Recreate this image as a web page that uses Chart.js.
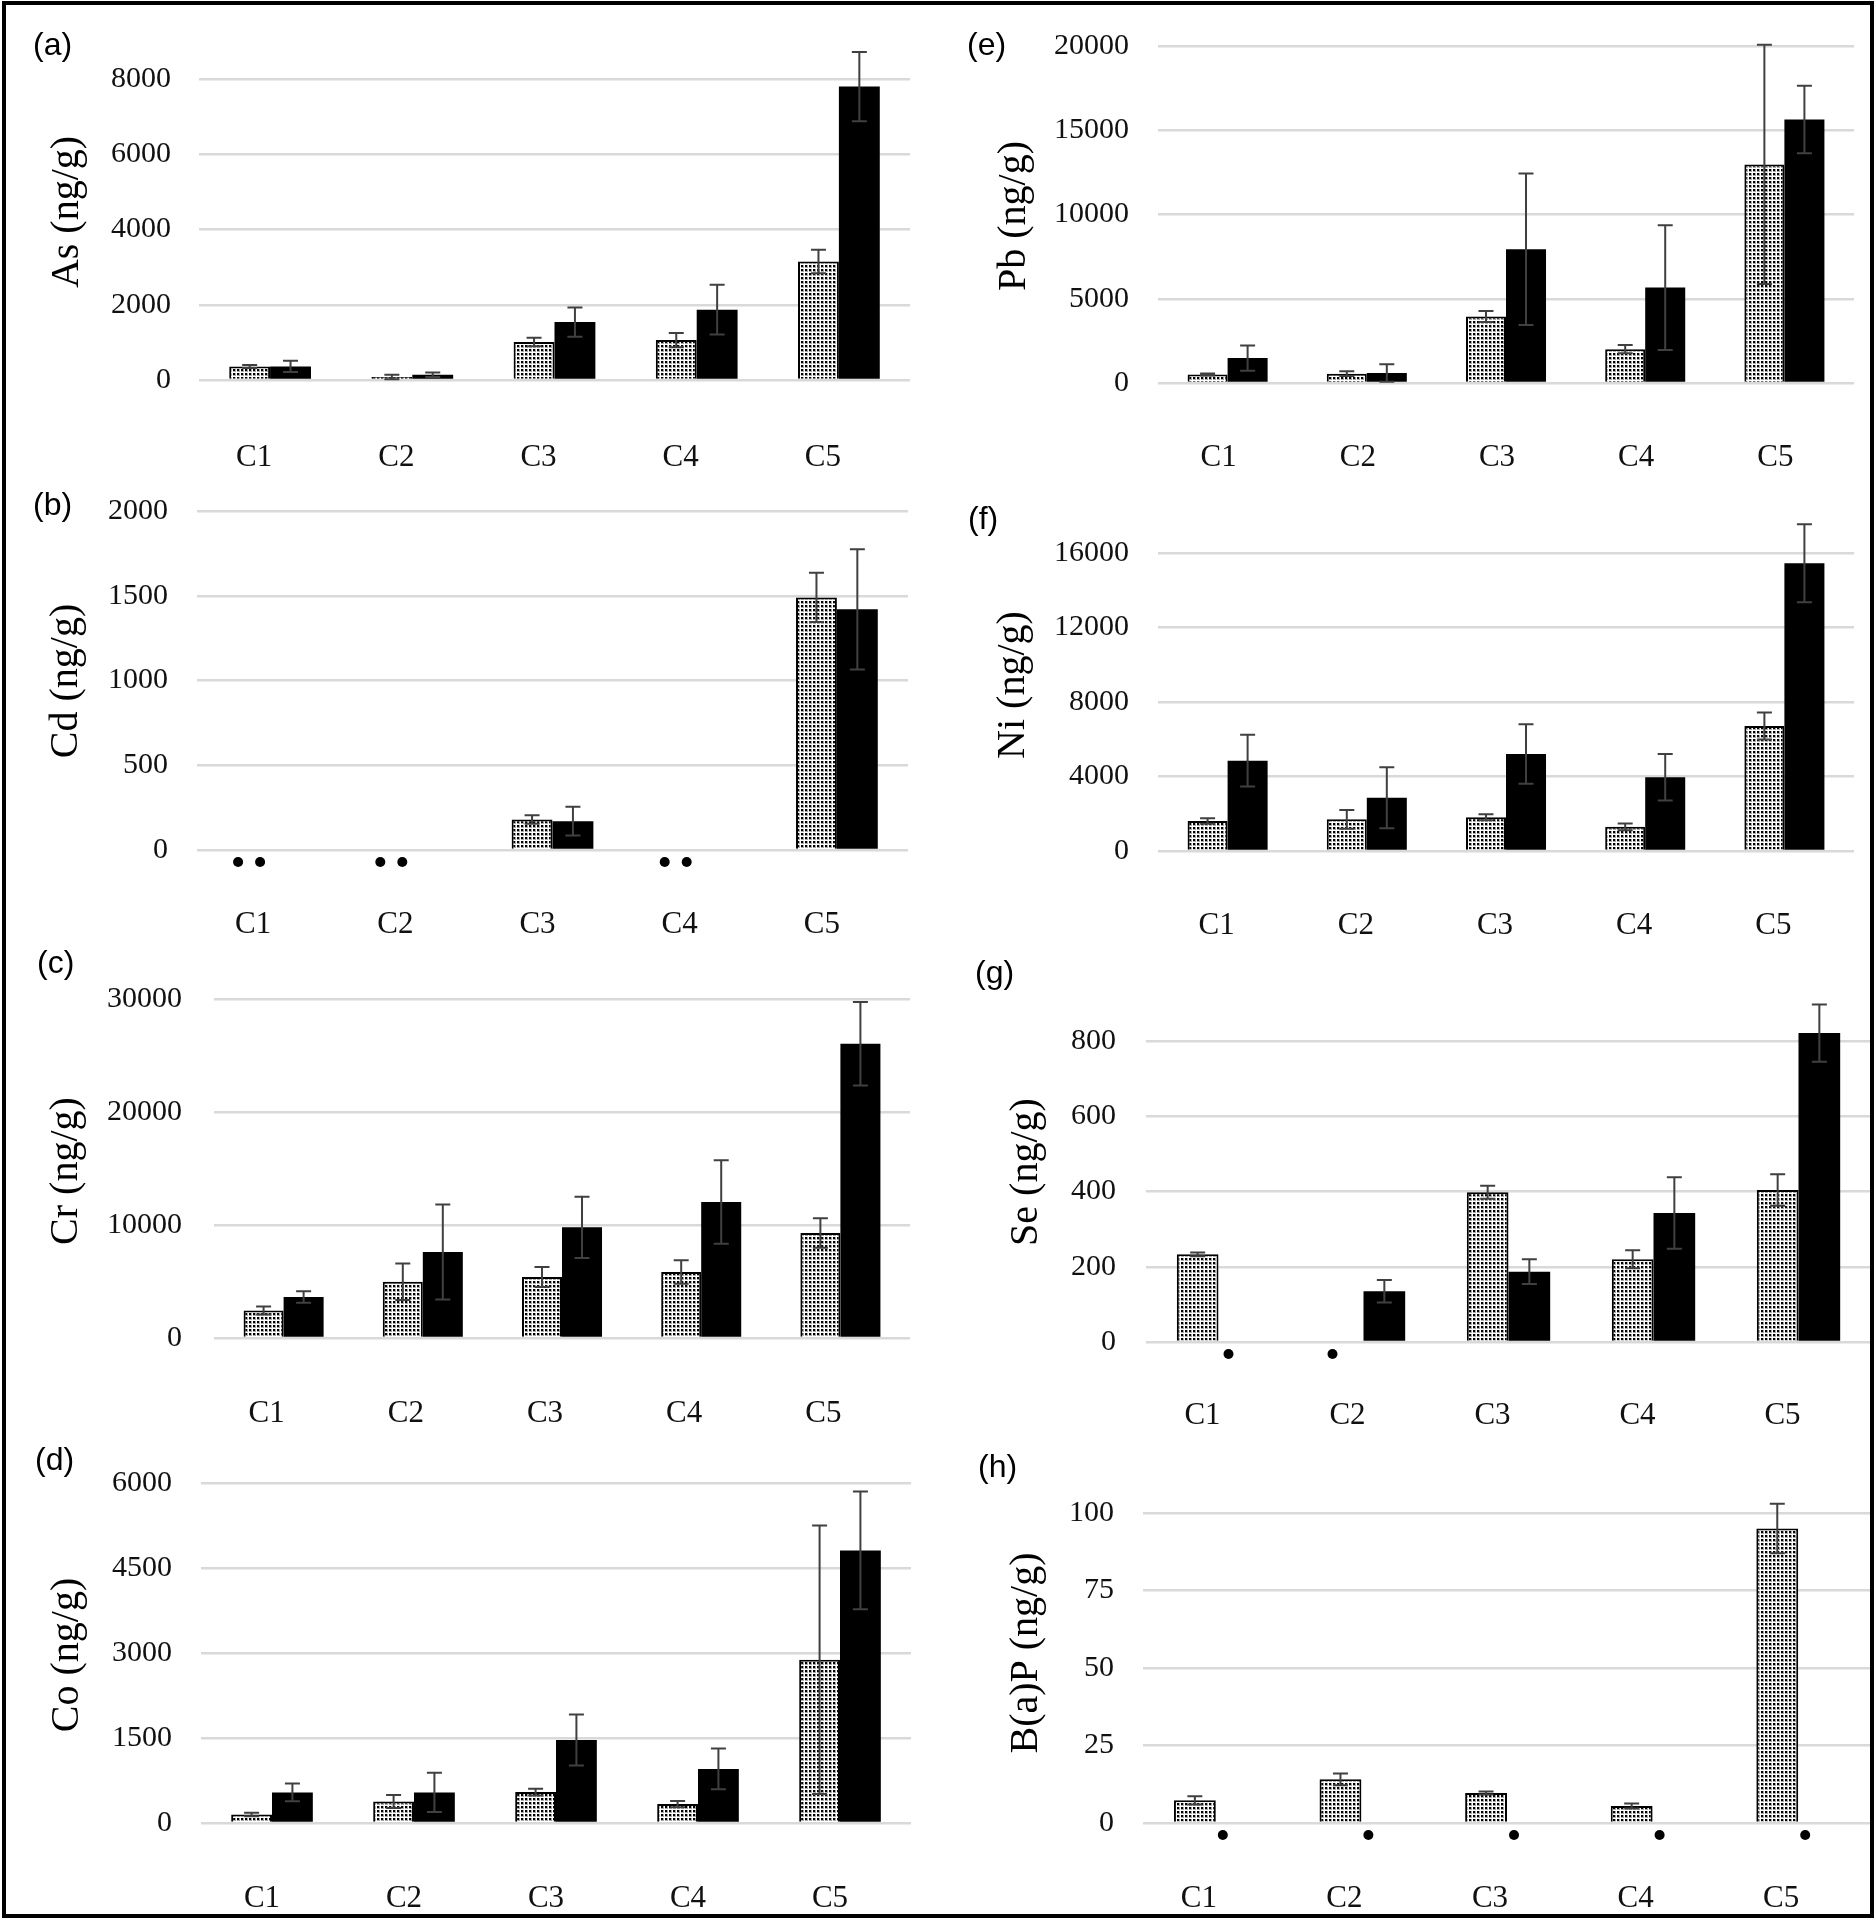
<!DOCTYPE html>
<html>
<head>
<meta charset="utf-8">
<script src="https://cdn.jsdelivr.net/npm/chart.js@4.4.1/dist/chart.umd.min.js"></script>
<style>
body{margin:0;background:#fff;}
#page{position:relative;width:1876px;height:1920px;overflow:hidden;}
#frame{position:absolute;left:2px;top:1px;width:1872px;height:1917px;border:4px solid #000;box-sizing:border-box;pointer-events:none;}
canvas{position:absolute;}
</style>
</head>
<body>
<div id="page"></div>
<script>
// DATA (dotted = first series, solid = second series, null = not detected)
let categories=["C1","C2","C3","C4","C5"];

let asDotted=[360,80,1010,1060,3150];
let asDottedErr=[40,60,110,190,310];
let asSolid=[360,140,1540,1870,7800];
let asSolidErr=[150,60,390,660,920];

let cdDotted=[null,null,180,null,1490];
let cdDottedErr=[0,0,25,0,145];
let cdSolid=[null,null,170,null,1420];
let cdSolidErr=[0,0,85,0,355];

let crDotted=[2440,4980,5400,5840,9290];
let crDottedErr=[350,1620,880,1030,1300];
let crSolid=[3630,7610,9790,12040,26040];
let crSolidErr=[500,4200,2700,3700,3700];

let coDotted=[150,380,545,335,2880];
let coDottedErr=[30,115,60,55,2370];
let coSolid=[540,540,1465,955,4810];
let coSolidErr=[155,345,450,360,1040];

let pbDotted=[500,550,3950,2010,12970];
let pbDottedErr=[60,140,330,240,7100];
let pbSolid=[1480,590,7940,5665,15640];
let pbSolidErr=[750,520,4500,3700,2000];

let niDotted=[1610,1700,1810,1300,6710];
let niDottedErr=[150,500,160,180,730];
let niSolid=[4850,2860,5210,3955,15450];
let niSolidErr=[1390,1640,1600,1250,2100];

let seDotted=[233,null,398,220,404];
let seDottedErr=[5,0,17,24,42];
let seSolid=[null,135,187,343,821];
let seSolidErr=[0,30,33,95,76];

let bapDotted=[7.3,14.1,9.7,5.5,95];
let bapDottedErr=[1.3,1.9,0.5,0.8,8];
let bapSolid=[null,null,null,null,null];
let bapSolidErr=[0,0,0,0,0];

// PANELS (layout in page pixels)
let panels=[
  {tag:"(a)",title:"As (ng/g)",d:asDotted,de:asDottedErr,s:asSolid,se:asSolidErr,max:8000,step:2000,
   box:[8,0,930,470],plot:[199,79,910,380],tickRight:171,labelY:450,labelOff:-16,tagAt:[33,46],titleAt:[67,212],nd:[-27,-6]},
  {tag:"(b)",title:"Cd (ng/g)",d:cdDotted,de:cdDottedErr,s:cdSolid,se:cdSolidErr,max:2000,step:500,
   box:[8,460,930,945],plot:[197,511,908,850],tickRight:168,labelY:917,labelOff:-15,tagAt:[33,506],titleAt:[66,681],nd:[-30,-8]},
  {tag:"(c)",title:"Cr (ng/g)",d:crDotted,de:crDottedErr,s:crSolid,se:crSolidErr,max:30000,step:10000,
   box:[8,940,930,1430],plot:[214,999,910,1338],tickRight:182,labelY:1406,labelOff:-17,tagAt:[37,964],titleAt:[66,1171],nd:[-27,-6]},
  {tag:"(d)",title:"Co (ng/g)",d:coDotted,de:coDottedErr,s:coSolid,se:coSolidErr,max:6000,step:1500,
   box:[8,1425,930,1914],plot:[201,1483,911,1823],tickRight:172,labelY:1891,labelOff:-10,tagAt:[35,1461],titleAt:[67,1655],nd:[-27,-6]},
  {tag:"(e)",title:"Pb (ng/g)",d:pbDotted,de:pbDottedErr,s:pbSolid,se:pbSolidErr,max:20000,step:5000,
   box:[936,0,1872,470],plot:[1158,46,1854,383],tickRight:1129,labelY:450,labelOff:-9,tagAt:[967,46],titleAt:[1014,216],nd:[-27,-6]},
  {tag:"(f)",title:"Ni (ng/g)",d:niDotted,de:niDottedErr,s:niSolid,se:niSolidErr,max:16000,step:4000,
   box:[936,470,1872,945],plot:[1158,553,1854,851],tickRight:1129,labelY:918,labelOff:-11,tagAt:[968,520],titleAt:[1013,685],nd:[-27,-6]},
  {tag:"(g)",title:"Se (ng/g)",d:seDotted,de:seDottedErr,s:seSolid,se:seSolidErr,max:800,step:200,
   box:[936,945,1872,1430],plot:[1146,1041,1871,1342],tickRight:1116,labelY:1408,labelOff:-16,tagAt:[975,974],titleAt:[1026,1172],nd:[-31,10]},
  {tag:"(h)",title:"B(a)P (ng/g)",d:bapDotted,de:bapDottedErr,s:bapSolid,se:bapSolidErr,max:100,step:25,
   box:[936,1430,1872,1914],plot:[1143,1513,1871,1823],tickRight:1114,labelY:1891,labelOff:-17,tagAt:[978,1468],titleAt:[1026,1653],nd:[-31,7]}
];

// DOT PATTERN
function makeDots(){
  let c=document.createElement("canvas");
  c.width=4;c.height=4;
  let g=c.getContext("2d");
  g.fillStyle="#fff";g.fillRect(0,0,4,4);
  g.fillStyle="#a8a8a8";g.fillRect(1,1,3,3);
  g.fillStyle="#000";g.fillRect(1,1,2,2);
  return g.createPattern(c,"repeat");
}
let dots=makeDots();

// ERROR BARS, ND DOTS, TEXTS
function extras(p){
  return {
    id:"extras",
    afterDatasetsDraw(chart){
      let ctx=chart.ctx, xs=chart.scales.x, ys=chart.scales.y;
      ctx.save();
      [[p.d,p.de],[p.s,p.se]].forEach(([vals,errs],si)=>{
        let meta=chart.getDatasetMeta(si);
        vals.forEach((v,i)=>{
          if(v==null){
            ctx.fillStyle="#000";
            ctx.beginPath();
            ctx.arc(xs.getPixelForValue(i)+p.nd[si],ys.getPixelForValue(0)+12,5,0,Math.PI*2);
            ctx.fill();
            return;
          }
          if(!errs[i]) return;
          let x=meta.data[i].x;
          let y1=ys.getPixelForValue(v+errs[i]);
          let y2=ys.getPixelForValue(Math.max(v-errs[i],0));
          ctx.strokeStyle="#404040";
          ctx.lineWidth=2;
          ctx.beginPath();
          ctx.moveTo(x,y1);ctx.lineTo(x,y2);
          ctx.moveTo(x-7.5,y1);ctx.lineTo(x+7.5,y1);
          ctx.moveTo(x-7.5,y2);ctx.lineTo(x+7.5,y2);
          ctx.stroke();
        });
      });
      // panel tag
      ctx.fillStyle="#000";
      ctx.font="32px 'Liberation Sans'";
      ctx.textAlign="left";
      ctx.textBaseline="middle";
      ctx.fillText(p.tag,p.tagAt[0]-p.box[0],p.tagAt[1]-p.box[1]);
      // y title
      ctx.translate(p.titleAt[0]-p.box[0],p.titleAt[1]-p.box[1]);
      ctx.rotate(-Math.PI/2);
      ctx.font="40px 'Liberation Serif'";
      ctx.textAlign="center";
      ctx.fillText(p.title,0,0);
      ctx.restore();
    }
  };
}

// CHARTS
let page=document.getElementById("page");
panels.forEach(p=>{
  let cv=document.createElement("canvas");
  let w=p.box[2]-p.box[0], h=p.box[3]-p.box[1];
  cv.width=w;cv.height=h;
  cv.style.left=p.box[0]+"px";cv.style.top=p.box[1]+"px";
  cv.style.width=w+"px";cv.style.height=h+"px";
  page.appendChild(cv);

  new Chart(cv,{
    type:"bar",
    data:{
      labels:categories,
      datasets:[
        {data:p.d,backgroundColor:dots,borderColor:"#000",borderWidth:2,categoryPercentage:0.575,barPercentage:1,clip:false},
        {data:p.s,backgroundColor:"#000",borderColor:"#000",borderWidth:0,categoryPercentage:0.575,barPercentage:1,clip:false}
      ]
    },
    options:{
      responsive:false,
      animation:false,
      devicePixelRatio:1,
      layout:{padding:{left:0,top:p.plot[1]-p.box[1],right:p.box[2]-p.plot[2],bottom:0}},
      plugins:{legend:{display:false},tooltip:{enabled:false}},
      scales:{
        x:{
          grid:{display:false},
          border:{display:false},
          ticks:{
            color:"#111",
            font:{family:"'Liberation Serif'",size:31,lineHeight:1.2},
            padding:p.labelY-p.plot[3]-18.6,
            labelOffset:p.labelOff,
            maxRotation:0,autoSkip:false
          },
          afterFit(s){s.height=p.box[3]-p.plot[3];}
        },
        y:{
          min:0,max:p.max,
          grid:{color:"#d9d9d9",lineWidth:2.5,drawTicks:false},
          border:{display:false},
          ticks:{
            stepSize:p.step,
            color:"#111",
            font:{family:"'Liberation Serif'",size:30,lineHeight:1},
            padding:p.plot[0]-p.tickRight,
            callback:v=>String(v)
          },
          afterFit(s){s.width=p.plot[0]-p.box[0];}
        }
      }
    },
    plugins:[extras(p)]
  });
});

let frame=document.createElement("div");
frame.id="frame";
page.appendChild(frame);
</script>
</body>
</html>
